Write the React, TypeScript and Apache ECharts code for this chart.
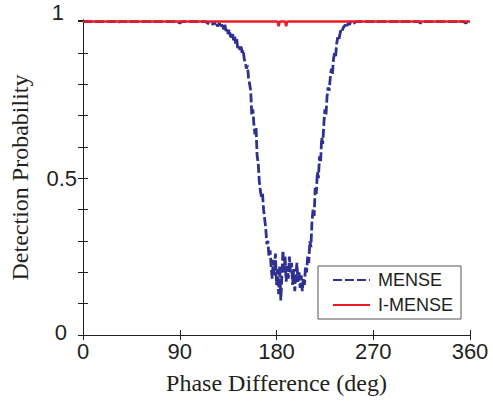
import React, { useEffect, useRef } from "react";
import * as echarts from "echarts";

// Phase difference grid (deg): 2-degree steps outside the dip, 1-degree steps across it
const phaseLow: number[] = Array.from({ length: 60 }, (_, i) => i * 2); // 0..118
const phaseDip: number[] = Array.from({ length: 131 }, (_, i) => 120 + i); // 120..250
const phaseHigh: number[] = Array.from({ length: 55 }, (_, i) => 252 + i * 2); // 252..360
const phase: number[] = [...phaseLow, ...phaseDip, ...phaseHigh];

// MENSE detection probability
const menseLow: number[] = [
  1, 1, 1, 1, 1, 1, 1, 1, 1, 1,
  1, 1, 1, 1, 1, 1, 0.995, 1, 1, 1,
  1, 1, 1, 1, 1, 1, 1, 1, 1, 1,
  1, 1, 1, 1, 1, 1, 1, 1, 1, 1,
  1, 1, 1, 1, 1, 0.995, 1, 1, 1, 1,
  1, 1, 1, 1, 1, 1, 1, 1, 0.995, 0.99,
];
const menseDip: number[] = [
  0.995, 0.99, 1, 0.99, 0.995, 0.985, 0.99, 0.995, 0.98, 0.99,
  0.985, 0.975, 0.99, 0.97, 0.98, 0.96, 0.975, 0.955, 0.95, 0.965,
  0.94, 0.955, 0.93, 0.945, 0.91, 0.92, 0.91, 0.925, 0.9, 0.91,
  0.88, 0.87, 0.85, 0.86, 0.82, 0.8, 0.78, 0.7, 0.72, 0.67,
  0.64, 0.66, 0.57, 0.55, 0.49, 0.46, 0.44, 0.45, 0.4, 0.37,
  0.34, 0.29, 0.3, 0.25, 0.27, 0.22, 0.18, 0.24, 0.19, 0.26,
  0.16, 0.21, 0.13, 0.22, 0.11, 0.19, 0.27, 0.2, 0.25, 0.17,
  0.22, 0.18, 0.25, 0.2, 0.23, 0.16, 0.21, 0.14, 0.19, 0.23,
  0.17, 0.2, 0.15, 0.19, 0.14, 0.18, 0.16, 0.22, 0.2, 0.25,
  0.23, 0.3, 0.28, 0.36, 0.4, 0.38, 0.47, 0.45, 0.52, 0.5,
  0.57, 0.55, 0.63, 0.61, 0.67, 0.72, 0.7, 0.76, 0.79, 0.78,
  0.82, 0.85, 0.83, 0.88, 0.9, 0.89, 0.93, 0.95, 0.94, 0.96,
  0.975, 0.97, 0.98, 0.985, 0.99, 0.98, 0.99, 0.995, 0.99, 1,
  1,
];
const menseHigh: number[] = [
  0.995, 1, 1, 1, 1, 1, 1, 1, 1, 1,
  1, 1, 1, 1, 1, 1, 1, 1, 1, 1,
  1, 1, 1, 1, 1, 1, 1, 1, 1, 1,
  1, 0.995, 1, 1, 1, 1, 1, 1, 1, 1,
  1, 1, 1, 1, 1, 1, 1, 1, 1, 1,
  1, 1, 0.995, 1, 1,
];
const mense: number[] = [...menseLow, ...menseDip, ...menseHigh];

// I-MENSE detection probability
const iMenseLow: number[] = [
  1, 1, 1, 1, 1, 1, 1, 1, 1, 1,
  1, 1, 1, 1, 1, 1, 1, 1, 1, 1,
  1, 1, 1, 1, 1, 1, 1, 1, 1, 1,
  1, 1, 1, 1, 1, 1, 1, 1, 1, 1,
  1, 1, 1, 1, 1, 1, 1, 1, 1, 1,
  1, 1, 1, 1, 1, 1, 1, 1, 1, 1,
];
const iMenseDip: number[] = [
  1, 1, 1, 1, 1, 1, 1, 1, 1, 1,
  1, 1, 1, 1, 1, 1, 1, 1, 1, 1,
  1, 1, 1, 1, 1, 1, 1, 1, 1, 1,
  1, 1, 1, 1, 1, 1, 1, 1, 1, 1,
  1, 1, 1, 1, 1, 1, 1, 1, 1, 1,
  1, 1, 1, 1, 1, 1, 1, 1, 1, 1,
  1, 1, 0.985, 1, 1, 1, 1, 1, 1, 0.985,
  1, 1, 1, 1, 1, 1, 1, 1, 1, 1,
  1, 1, 1, 1, 1, 1, 1, 1, 1, 1,
  1, 1, 1, 1, 1, 1, 1, 1, 1, 1,
  1, 1, 1, 1, 1, 1, 1, 1, 1, 1,
  1, 1, 1, 1, 1, 1, 1, 1, 1, 1,
  1, 1, 1, 1, 1, 1, 1, 1, 1, 1,
  1,
];
const iMenseHigh: number[] = [
  1, 1, 1, 1, 1, 1, 1, 1, 1, 1,
  1, 1, 1, 1, 1, 1, 1, 1, 1, 1,
  1, 1, 1, 1, 1, 1, 1, 1, 1, 1,
  1, 1, 1, 1, 1, 1, 1, 1, 1, 1,
  1, 1, 1, 1, 1, 1, 1, 1, 1, 1,
  1, 1, 1, 1, 1,
];
const iMense: number[] = [...iMenseLow, ...iMenseDip, ...iMenseHigh];

const xTicks: number[] = [0, 90, 180, 270, 360];
const yTickLabels: string[] = ["0", "0.5", "1"];
const seriesNames: string[] = ["MENSE", "I-MENSE"];

const INK = "#231f20";
const SANS = "'Liberation Sans', Arial, Helvetica, sans-serif";
const SERIF = "'Liberation Serif', 'Times New Roman', serif";

export default function App() {
  const ref = useRef<HTMLDivElement>(null);

  useEffect(() => {
    if (!ref.current) return;
    const chart = echarts.init(ref.current, undefined, { renderer: "svg" });

    const axisLine = { show: true, lineStyle: { color: INK, width: 1 } };

    chart.setOption({
      animation: false,
      backgroundColor: "#ffffff",
      grid: { left: 74, right: 23, top: 20, bottom: 66, containLabel: false },
      legend: {
        data: seriesNames,
        orient: "vertical",
        left: 318,
        top: 266,
        itemWidth: 37,
        itemHeight: 14,
        itemGap: 7,
        padding: [5, 8, 5, 14],
        borderColor: "#555555",
        borderWidth: 1,
        backgroundColor: "#ffffff",
        itemStyle: { opacity: 0 },
        textStyle: { fontFamily: SANS, fontSize: 18, color: INK, padding: [0, 0, 0, 3] },
      },
      xAxis: [
        {
          type: "value",
          min: 0,
          max: 360,
          interval: 90,
          name: "Phase Difference (deg)",
          nameLocation: "middle",
          nameGap: 36,
          nameTextStyle: { fontFamily: SERIF, fontSize: 24, color: INK },
          axisLine,
          axisTick: { show: true, inside: true, length: 5, lineStyle: { color: INK } },
          axisLabel: {
            fontFamily: SANS,
            fontSize: 22,
            color: INK,
            margin: 5,
            formatter: (v: number) => (xTicks.includes(v) ? String(v) : ""),
          },
          splitLine: { show: false },
        },
        {
          type: "value",
          position: "top",
          min: 0,
          max: 360,
          interval: 90,
          axisLine,
          axisTick: { show: true, inside: true, length: 5, lineStyle: { color: INK } },
          axisLabel: { show: false },
          splitLine: { show: false },
        },
      ],
      yAxis: [
        {
          type: "value",
          min: 0,
          max: 1.005,
          interval: 0.1,
          name: "Detection Probability",
          nameLocation: "middle",
          nameGap: 51,
          nameTextStyle: { fontFamily: SERIF, fontSize: 24, color: INK },
          axisLine,
          axisTick: { show: true, inside: true, length: 5, lineStyle: { color: INK } },
          axisLabel: {
            fontFamily: SANS,
            fontSize: 22,
            color: INK,
            margin: 6,
            formatter: (v: number) => {
              if (Math.abs(v - 1) < 1e-6) return "{one|" + yTickLabels[2] + "}";
              if (Math.abs(v - 0.5) < 1e-6) return "{half|" + yTickLabels[1] + "}";
              if (Math.abs(v) < 1e-6) return "{zero|" + yTickLabels[0] + "}";
              return "";
            },
            rich: {
              one: { fontFamily: SANS, fontSize: 22, color: INK, padding: [0, 13, 18, 0] },
              half: { fontFamily: SANS, fontSize: 22, color: INK, padding: [0, 0, 0, 0] },
              zero: { fontFamily: SANS, fontSize: 22, color: INK, padding: [0, 10, 5, 0] },
            },
          },
          splitLine: { show: false },
        },
        {
          type: "value",
          position: "right",
          min: 0,
          max: 1.005,
          interval: 0.1,
          axisLine,
          axisTick: { show: true, inside: true, length: 5, lineStyle: { color: INK } },
          axisLabel: { show: false },
          splitLine: { show: false },
        },
      ],
      series: [
        {
          name: seriesNames[0],
          type: "line",
          xAxisIndex: 0,
          yAxisIndex: 0,
          showSymbol: false,
          symbol: "none",
          data: phase.map((p, i) => [p, mense[i]]),
          lineStyle: { color: "#2e3192", width: 2.8, type: [9, 3] },
          itemStyle: { color: "#2e3192" },
          z: 2,
        },
        {
          name: seriesNames[1],
          type: "line",
          xAxisIndex: 0,
          yAxisIndex: 0,
          showSymbol: false,
          symbol: "none",
          data: phase.map((p, i) => [p, iMense[i]]),
          lineStyle: { color: "#ed1c24", width: 2.5, type: "solid" },
          itemStyle: { color: "#ed1c24" },
          z: 3,
        },
      ],
    });

    return () => chart.dispose();
  }, []);

  return (
    <div
      ref={ref}
      style={{ position: "absolute", left: 0, top: 0, width: 493, height: 401 }}
    />
  );
}
